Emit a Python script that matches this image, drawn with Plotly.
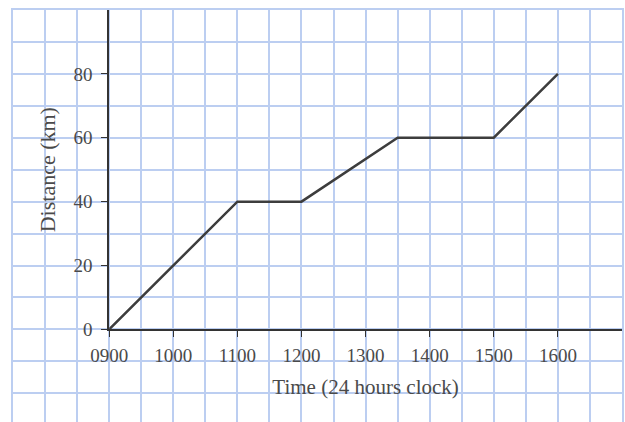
"""Distance-time graph on blue squared paper."""

import plotly.graph_objects as go

# Data: hours after 0900 and distance travelled (km)
hours = [0, 2, 3, 4.5, 6, 7]
distance = [0, 40, 40, 60, 60, 80]

tick_hours = [0, 1, 2, 3, 4, 5, 6, 7]
tick_labels = ['0900', '1000', '1100', '1200', '1300', '1400', '1500', '1600']
dist_ticks = [0, 20, 40, 60, 80]

# Extent of the squared paper (in data units)
X_MIN, X_MAX = -1.5, 8.0
Y_MIN, Y_MAX = -29, 100

GRID = '#bccef1'
INK = '#333333'
TEXT = '#4a4a4a'
FONT = 'Liberation Serif'

fig = go.Figure()

# transparent trace so the squared-paper axes (x/y) get rendered
fig.add_trace(go.Scatter(
    x=hours, y=distance, mode='lines',
    line={'color': 'rgba(0,0,0,0)', 'width': 1},
    showlegend=False, hoverinfo='skip',
))
# the journey, on the drawn axes
fig.add_trace(go.Scatter(
    x=hours, y=distance, mode='lines',
    line={'color': '#3d3d3d', 'width': 2.5},
    xaxis='x2', yaxis='y2', cliponaxis=False,
    showlegend=False, hoverinfo='skip',
))

x_start = (0 - X_MIN) / (X_MAX - X_MIN)
y_start = (0 - Y_MIN) / (Y_MAX - Y_MIN)

fig.update_layout(
    template='none',
    width=625,
    height=422,
    margin={'l': 13, 'r': 3, 't': 10, 'b': 0},
    paper_bgcolor='white',
    plot_bgcolor='rgba(0,0,0,0)',
    font={'family': FONT, 'color': TEXT, 'size': 19},
    # squared paper grid
    xaxis={
        'domain': [0, 1],
        'range': [X_MIN, X_MAX], 'dtick': 0.5, 'tick0': X_MIN,
        'showgrid': True, 'gridcolor': GRID, 'gridwidth': 2,
        'showticklabels': False, 'ticks': '', 'zeroline': False,
        'showline': True, 'linecolor': GRID, 'linewidth': 2, 'mirror': True,
        'fixedrange': True, 'automargin': False,
    },
    yaxis={
        'domain': [0, 1],
        'range': [Y_MIN, Y_MAX], 'dtick': 10, 'tick0': 0,
        'showgrid': True, 'gridcolor': GRID, 'gridwidth': 2,
        'showticklabels': False, 'ticks': '', 'zeroline': False,
        'showline': True, 'linecolor': GRID, 'linewidth': 2, 'mirror': True,
        'fixedrange': True, 'automargin': False,
    },
    # drawn axes
    xaxis2={
        'domain': [x_start, 1], 'range': [0, X_MAX],
        'anchor': 'y2',
        'tickvals': tick_hours, 'ticktext': tick_labels,
        'ticks': 'outside', 'ticklen': 6, 'tickcolor': INK, 'tickwidth': 1.3,
        'ticklabelstandoff': 2,
        'showline': True, 'linecolor': INK, 'linewidth': 1.6,
        'showgrid': False, 'zeroline': False,
        'title': {'text': 'Time (24 hours clock)', 'standoff': 14,
                  'font': {'size': 21, 'color': TEXT}},
        'fixedrange': True, 'automargin': False,
    },
    yaxis2={
        'domain': [y_start, 1], 'range': [0, Y_MAX],
        'anchor': 'x2',
        'tickvals': dist_ticks,
        'ticks': 'outside', 'ticklen': 6, 'tickcolor': INK, 'tickwidth': 1.3,
        'ticklabelstandoff': 5,
        'showline': True, 'linecolor': INK, 'linewidth': 1.6,
        'showgrid': False, 'zeroline': False,
        'title': {'text': 'Distance (km)', 'standoff': 12,
                  'font': {'size': 22, 'color': TEXT}},
        'fixedrange': True, 'automargin': False,
    },
)

fig.write_html(
    "out.html",
    config={'displayModeBar': False},
    post_script="document.body.style.margin = '0';",
)
